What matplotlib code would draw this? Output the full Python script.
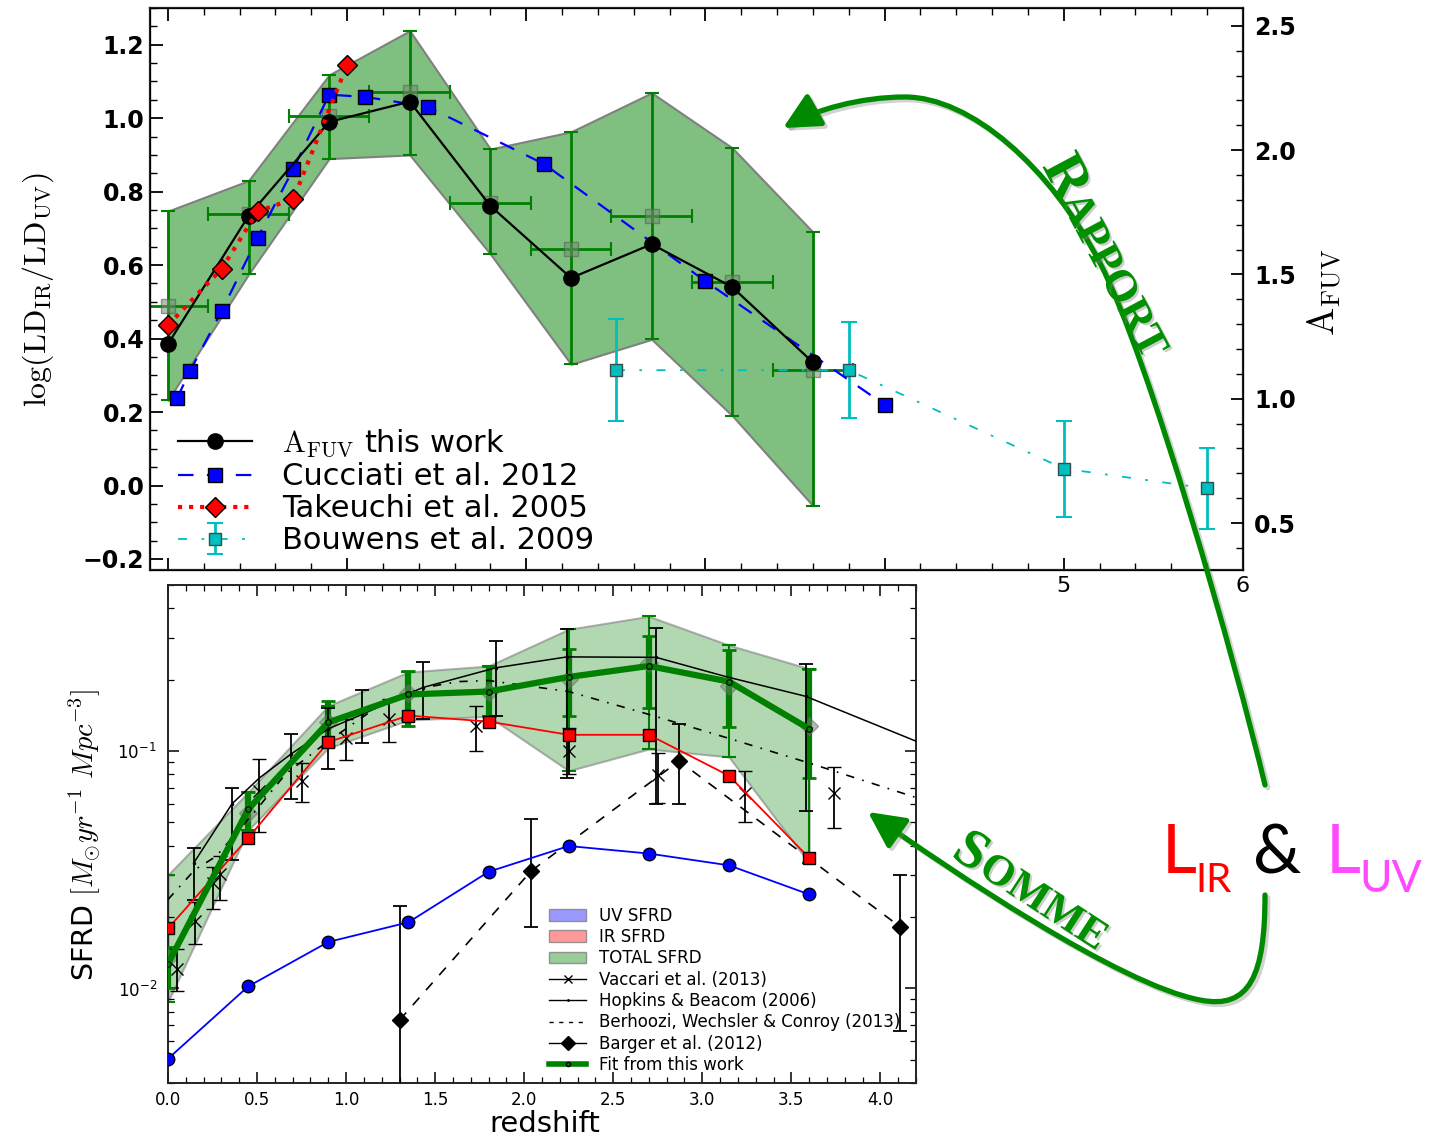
import matplotlib
matplotlib.use('Agg')
import matplotlib.pyplot as plt
from matplotlib.patches import Rectangle, FancyArrowPatch, Patch
from matplotlib.lines import Line2D
from matplotlib.path import Path
from matplotlib.ticker import MultipleLocator, LogLocator
import matplotlib.patheffects as pe

plt.rcParams['mathtext.fontset'] = 'cm'
plt.rcParams['font.family'] = ['DejaVu Sans']

# ------------------------------------------------------------------
# Upper panel: dust attenuation log(LD_IR/LD_UV) versus redshift
# ------------------------------------------------------------------
z_bins = [0.0, 0.45, 0.9, 1.35, 1.8, 2.25, 2.7, 3.15, 3.6]
afuv_this_work = [0.385, 0.734, 0.99, 1.045, 0.761, 0.565, 0.657, 0.54, 0.335]
ratio_bin = [0.49, 0.74, 1.005, 1.07, 0.77, 0.645, 0.735, 0.555, 0.315]
ratio_hi = [0.747, 0.83, 1.118, 1.238, 0.916, 0.963, 1.069, 0.919, 0.69]
ratio_lo = [0.232, 0.575, 0.89, 0.90, 0.63, 0.33, 0.398, 0.19, -0.055]
bin_half_width = 0.225

cucciati_z = [0.05, 0.125, 0.3, 0.5, 0.7, 0.9, 1.1, 1.45, 2.1, 3.0, 4.0]
cucciati_v = [0.237, 0.313, 0.475, 0.674, 0.862, 1.064, 1.058, 1.031, 0.875, 0.556, 0.22]

takeuchi_z = [0.0, 0.3, 0.5, 0.7, 1.0]
takeuchi_v = [0.436, 0.59, 0.746, 0.78, 1.145]

bouwens_z = [2.5, 3.8, 5.0, 5.8]
bouwens_v = [0.314, 0.314, 0.046, -0.008]
bouwens_err = [0.138, 0.13, 0.131, 0.11]

# ------------------------------------------------------------------
# Lower panel: star formation rate density versus redshift
# ------------------------------------------------------------------
uv_sfrd = [0.00506, 0.0102, 0.0157, 0.019, 0.031, 0.0398, 0.037, 0.033, 0.0249]
ir_sfrd = [0.0179, 0.043, 0.109, 0.141, 0.133, 0.117, 0.117, 0.0787, 0.0355]
fit_sfrd = [0.0127, 0.0568, 0.132, 0.173, 0.178, 0.205, 0.228, 0.196, 0.124]
fit_hi = [0.0150, 0.067, 0.163, 0.2175, 0.228, 0.268, 0.304, 0.266, 0.222]
fit_lo = [0.0100, 0.0464, 0.105, 0.128, 0.14, 0.14, 0.151, 0.126, 0.077]
total_hi = [0.0301, 0.067, 0.155, 0.215, 0.228, 0.3255, 0.369, 0.279, 0.222]
total_lo = [0.0088, 0.0464, 0.103, 0.135, 0.14, 0.0826, 0.102, 0.0944, 0.0338]
total_pts = [0.0135, 0.0546, 0.133, 0.176, 0.178, 0.2017, 0.235, 0.188, 0.128]

vaccari_z = [0.05, 0.15, 0.25, 0.29, 0.51, 0.75, 1.0, 1.24, 1.73, 2.25, 2.75, 3.24, 3.74]
vaccari_v = [0.0121, 0.0192, 0.0279, 0.0302, 0.068, 0.075, 0.113, 0.137, 0.127, 0.1, 0.0794, 0.0668, 0.0668]
vaccari_hi = [0.0147, 0.0231, 0.0325, 0.036, 0.0926, 0.089, 0.137, 0.166, 0.155, 0.125, 0.098, 0.0825, 0.0858]
vaccari_lo = [0.0098, 0.0154, 0.0216, 0.0235, 0.0455, 0.0607, 0.0917, 0.109, 0.1, 0.08, 0.0604, 0.05, 0.0473]

hopkins_z = [0.146, 0.36, 0.515, 0.69, 0.9, 1.09, 1.43, 1.84, 2.24, 2.74, 3.14, 3.58, 4.2]
hopkins_v = [0.0339, 0.06, 0.0772, 0.097, 0.124, 0.1426, 0.185, 0.224, 0.249, 0.248, 0.205, 0.17, 0.11]
hopkins_pt_z = [0.146, 0.36, 0.69, 0.9, 1.09, 1.43, 1.84, 2.24, 2.74, 3.58]
hopkins_pt_v = [0.0339, 0.06, 0.097, 0.124, 0.1426, 0.185, 0.224, 0.249, 0.248, 0.17]
hopkins_pt_hi = [0.039, 0.07, 0.118, 0.151, 0.181, 0.237, 0.29, 0.326, 0.33, 0.232]
hopkins_pt_lo = [0.0235, 0.0348, 0.0625, 0.0841, 0.108, 0.137, 0.14, 0.077, 0.06, 0.0557]

behroozi_z = [0.0, 0.15, 0.27, 0.5, 0.66, 0.9, 1.22, 1.44, 1.63, 1.8, 2.25, 2.7, 3.15, 3.6, 4.2]
behroozi_v = [0.0237, 0.0316, 0.036, 0.057, 0.080, 0.11, 0.162, 0.185, 0.196, 0.198, 0.178, 0.1426, 0.113, 0.089, 0.0637]

barger_z = [1.30, 2.04, 2.87, 4.11]
barger_v = [0.00736, 0.0313, 0.0908, 0.0182]
barger_hi = [0.0222, 0.0516, 0.1296, 0.0301]
barger_lo = [0.003, 0.0181, 0.0601, 0.00662]

W, H = 1438, 1138
fig = plt.figure(figsize=(W / 100, H / 100), dpi=100)


def fx(x):
    return x / W


def fy(y):
    return 1 - y / H


def box(x0, y0, x1, y1):
    return [fx(x0), fy(y1), fx(x1) - fx(x0), fy(y0) - fy(y1)]


# ---------------------------- upper panel ----------------------------
ax = fig.add_axes(box(150, 8, 1243, 570))
ax.set_zorder(0)
ax.fill_between(z_bins, ratio_lo, ratio_hi, facecolor=(0, 0.5, 0, 0.5),
                edgecolor=(0.5, 0.5, 0.5), lw=1.5, zorder=1)
ax.errorbar(z_bins, ratio_bin,
            yerr=[[b - l for b, l in zip(ratio_bin, ratio_lo)],
                  [h - b for b, h in zip(ratio_bin, ratio_hi)]],
            xerr=bin_half_width, fmt='s', ms=10,
            mfc=(0.45, 0.55, 0.45, 0.55), mec=(0.3, 0.4, 0.3, 0.6),
            ecolor='green', elinewidth=2, capsize=5, capthick=1.5, zorder=2)
l1, = ax.plot(z_bins, afuv_this_work, '-', color='k', lw=1.6, marker='o', ms=11,
              mfc='k', mec='k', zorder=5,
              label=r'$\mathrm{A_{FUV}}$ this work')
l2, = ax.plot(cucciati_z, cucciati_v, '--', color='blue', lw=1.6, dashes=(7, 6),
              marker='s', ms=10, mfc='blue', mec='k', zorder=4,
              label='Cucciati et al. 2012')
l3, = ax.plot(takeuchi_z, takeuchi_v, ':', color='red', lw=3,
              marker='D', ms=10, mfc='red', mec='k', zorder=6,
              label='Takeuchi et al. 2005')
l4 = ax.errorbar(bouwens_z, bouwens_v, yerr=bouwens_err, fmt='s', ls='-.',
                 dashes=(5, 8, 1.5, 8), color='c', lw=1.3, ms=9, mfc='c',
                 mec=(0.2, 0.3, 0.3), ecolor='c', elinewidth=2, capsize=6,
                 capthick=1.5, zorder=3, label='Bouwens et al. 2009')

ax.set_xlim(-0.1, 6)
ax.set_ylim(-0.23, 1.3)
ax.xaxis.set_major_locator(MultipleLocator(1))
ax.xaxis.set_minor_locator(MultipleLocator(0.2))
ax.yaxis.set_major_locator(MultipleLocator(0.2))
ax.yaxis.set_minor_locator(MultipleLocator(0.05))
ax.tick_params(which='both', direction='in', top=True, right=False)
ax.tick_params(which='major', length=9, width=1.3)
ax.tick_params(which='minor', length=5, width=1.0)
ax.tick_params(axis='y', labelsize=17, pad=4)
ax.tick_params(axis='x', labelsize=16, pad=4)
for t in ax.get_yticklabels():
    t.set_fontweight('bold')
for s in ax.spines.values():
    s.set_linewidth(1.6)
    s.set_color('#222222')

ax2 = ax.twinx()
ax2.set_ylim(0.311, 2.572)
ax2.yaxis.set_major_locator(MultipleLocator(0.5))
ax2.yaxis.set_minor_locator(MultipleLocator(0.1))
ax2.tick_params(which='both', direction='in')
ax2.tick_params(which='major', length=9, width=1.3)
ax2.tick_params(which='minor', length=5, width=1.0)
ax2.tick_params(axis='y', labelsize=17, pad=8)
for t in ax2.get_yticklabels():
    t.set_fontweight('bold')

ax.legend(handles=[l1, l2, l3, l4], loc='lower left', bbox_to_anchor=(0.026, 0.026),
          frameon=False, numpoints=1, fontsize=22, handlelength=2.4,
          handletextpad=1.0, labelspacing=0.1, borderpad=0, borderaxespad=0)

fig.text(fx(38), fy(290), r'$\log(\mathrm{LD_{IR}/LD_{UV}})$', rotation=90,
         ha='center', va='center', fontsize=23)
fig.text(fx(1325), fy(292), r'$\mathrm{A_{FUV}}$', rotation=90,
         ha='center', va='center', fontsize=27)

# white backing for the lower panel
fig.add_artist(Rectangle((0, 0), fx(935), fy(574), transform=fig.transFigure,
                         facecolor='white', edgecolor='none', zorder=1))

# ---------------------------- lower panel ----------------------------
bx = fig.add_axes(box(168, 585, 916, 1083))
bx.set_zorder(2)
bx.set_yscale('log')

bx.fill_between(z_bins, total_lo, total_hi, facecolor=(0, 0.5, 0, 0.3),
                edgecolor=(0.5, 0.5, 0.5, 0.6), lw=1.5, zorder=1)
bx.errorbar(z_bins, fit_sfrd,
            yerr=[[f - l for f, l in zip(fit_sfrd, total_lo)],
                  [h - f for f, h in zip(fit_sfrd, total_hi)]],
            fmt='none', ecolor='green', elinewidth=1.5, capsize=5, capthick=1.5,
            zorder=2)
bx.errorbar(z_bins, fit_sfrd,
            yerr=[[f - l for f, l in zip(fit_sfrd, fit_lo)],
                  [h - f for f, h in zip(fit_sfrd, fit_hi)]],
            fmt='none', ecolor='green', elinewidth=4.5, capsize=5, capthick=2,
            zorder=3)
bx.plot(z_bins, total_pts, 'D', ms=9, mfc=(0.4, 0.5, 0.4, 0.5),
        mec=(0.4, 0.4, 0.4, 0.5), ls='none', zorder=3)

bx.plot(hopkins_z, hopkins_v, '-', color='k', lw=1.1, zorder=4)
bx.errorbar(hopkins_pt_z, hopkins_pt_v,
            yerr=[[v - l for v, l in zip(hopkins_pt_v, hopkins_pt_lo)],
                  [h - v for v, h in zip(hopkins_pt_v, hopkins_pt_hi)]],
            fmt='.', ms=3, color='k', ecolor='k', elinewidth=1.3, capsize=5,
            capthick=1.3, zorder=4)
bx.plot(behroozi_z, behroozi_v, '-.', color='k', lw=1.2, dashes=(5, 5, 1, 5),
        zorder=4)
bx.errorbar(vaccari_z, vaccari_v,
            yerr=[[v - l for v, l in zip(vaccari_v, vaccari_lo)],
                  [h - v for v, h in zip(vaccari_v, vaccari_hi)]],
            fmt='x', ms=8, color='k', mew=1.0, ecolor='k', elinewidth=1.3,
            capsize=5, capthick=1.3, zorder=4)
bx.errorbar(barger_z, barger_v,
            yerr=[[v - l for v, l in zip(barger_v, barger_lo)],
                  [h - v for v, h in zip(barger_v, barger_hi)]],
            fmt='D', ls='--', dashes=(6, 6), color='k', lw=1.2, ms=8,
            ecolor='k', elinewidth=1.3, capsize=5, capthick=1.3, zorder=4)

bx.plot(z_bins, ir_sfrd, '-', color='red', lw=1.3, marker='s', ms=9,
        mfc='red', mec='k', zorder=5)
bx.plot(z_bins, uv_sfrd, '-', color='blue', lw=1.3, marker='o', ms=9,
        mfc='blue', mec='k', zorder=5)
bx.plot(z_bins, fit_sfrd, '-', color='green', lw=4.5, marker='o', ms=4,
        mfc='none', mec='k', mew=0.8, zorder=6)

bx.set_xlim(0, 4.2)
bx.set_ylim(4e-3, 0.5)
bx.xaxis.set_major_locator(MultipleLocator(0.5))
bx.xaxis.set_minor_locator(MultipleLocator(0.1))
bx.yaxis.set_major_locator(LogLocator(base=10))
bx.yaxis.set_minor_locator(LogLocator(base=10, subs=range(2, 10)))
bx.tick_params(which='both', direction='in', top=True, right=True)
bx.tick_params(which='major', length=8, width=1.1)
bx.tick_params(which='minor', length=4, width=0.9)
bx.tick_params(axis='x', labelsize=12, pad=6)
bx.tick_params(axis='y', labelsize=12, pad=8)
for s in bx.spines.values():
    s.set_linewidth(1.4)
    s.set_color('#222222')

legend_handles = [
    Patch(facecolor=(0, 0, 1, 0.4), edgecolor=(0.5, 0.5, 0.5, 0.8), label='UV SFRD'),
    Patch(facecolor=(1, 0, 0, 0.4), edgecolor=(0.5, 0.5, 0.5, 0.8), label='IR SFRD'),
    Patch(facecolor=(0, 0.5, 0, 0.4), edgecolor=(0.5, 0.5, 0.5, 0.8), label='TOTAL SFRD'),
    Line2D([], [], color='k', lw=1, marker='x', ms=6, label='Vaccari et al. (2013)'),
    Line2D([], [], color='k', lw=1, marker='.', ms=2, label='Hopkins & Beacom (2006)'),
    Line2D([], [], color='k', lw=1, ls='--', dashes=(3, 4), label='Berhoozi, Wechsler & Conroy (2013)'),
    Line2D([], [], color='k', lw=1, marker='D', ms=7, label='Barger et al. (2012)'),
    Line2D([], [], color='green', lw=4, marker='o', ms=3, mfc='none', mec='k',
           label='Fit from this work'),
]
bx.legend(handles=legend_handles, loc='lower left', bbox_to_anchor=(0.51, 0.018),
          frameon=False, numpoints=1, fontsize=12, handlelength=2.2,
          handletextpad=0.8, labelspacing=0.2, borderpad=0, borderaxespad=0)

fig.text(fx(85), fy(835), r'SFRD $[M_{\odot}yr^{-1}\ Mpc^{-3}]$', rotation=90,
         ha='center', va='center', fontsize=20.5, zorder=3)
fig.text(fx(545), fy(1124), 'redshift', ha='center', va='center', fontsize=21,
         zorder=3)

# ------------------------- annotations -------------------------
arrow_green = '#008a00'
shadow = [pe.SimpleLineShadow(offset=(2, -2), shadow_color='gray', alpha=0.35),
          pe.Normal()]

p1 = [(1265, 785), (1235, 660), (1150, 360), (1100, 263),
      (1050, 166), (970, 97), (905, 97),
      (860, 97), (815, 110), (783, 128)]
path1 = Path([(fx(x), fy(y)) for x, y in p1],
             [Path.MOVETO] + [Path.CURVE4] * 9)
fig.add_artist(FancyArrowPatch(path=path1, transform=fig.transFigure,
                               arrowstyle='-|>,head_length=1.1,head_width=0.55',
                               mutation_scale=20, lw=3.8, color=arrow_green,
                               shrinkA=0, shrinkB=0, zorder=5, path_effects=shadow))

p2 = [(1265, 895), (1265, 975), (1250, 1010), (1200, 1000),
      (1120, 985), (950, 870), (868, 812)]
path2 = Path([(fx(x), fy(y)) for x, y in p2],
             [Path.MOVETO] + [Path.CURVE4] * 6)
fig.add_artist(FancyArrowPatch(path=path2, transform=fig.transFigure,
                               arrowstyle='-|>,head_length=1.1,head_width=0.55',
                               mutation_scale=20, lw=3.8, color=arrow_green,
                               shrinkA=0, shrinkB=0, zorder=5, path_effects=shadow))

text_shadow = [pe.SimplePatchShadow(offset=(1.5, -1.5), shadow_rgbFace='gray', alpha=0.4),
               pe.Normal()]
word_style = dict(color='#009000', fontweight='bold', family='Liberation Serif',
                  rotation_mode='anchor', ha='left', va='baseline', zorder=6,
                  path_effects=text_shadow)
fig.text(fx(1042), fy(166), 'R', rotation=-62, fontsize=42, **word_style)
fig.text(fx(1060), fy(201), 'APPORT', rotation=-62, fontsize=32, **word_style)
fig.text(fx(950), fy(856), 'S', rotation=-33, fontsize=40, **word_style)
fig.text(fx(977), fy(873), 'OMME', rotation=-33, fontsize=31, **word_style)

lum_style = dict(family='Lato', ha='left', va='baseline', zorder=6)
fig.text(fx(1162), fy(873), 'L', color='#ff0000', fontsize=49, **lum_style)
fig.text(fx(1195), fy(892), 'IR', color='#ff0000', fontsize=29, **lum_style)
fig.text(fx(1253), fy(873), '&', color='black', fontsize=49, **lum_style)
fig.text(fx(1326), fy(873), 'L', color='#ff4bff', fontsize=49, **lum_style)
fig.text(fx(1359), fy(892), 'UV', color='#ff4bff', fontsize=32, **lum_style)

fig.savefig('out.png', dpi=100)
